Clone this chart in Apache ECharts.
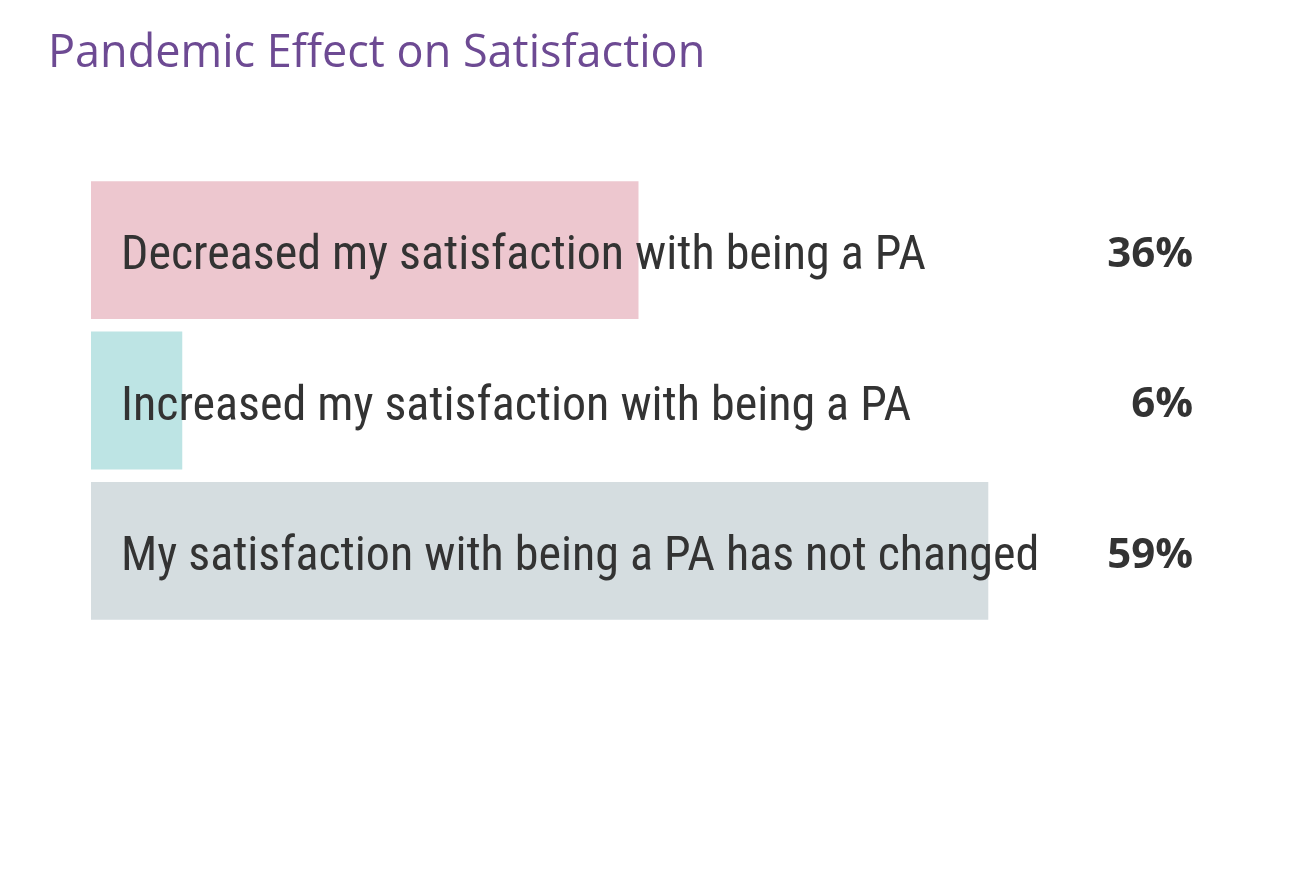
<!DOCTYPE html>
<html>
<head>
<meta charset="utf-8">
<script src="https://cdn.jsdelivr.net/npm/echarts@6/dist/echarts.min.js"></script>
<style>
html,body{margin:0;padding:0;background:#fff;}
#chart{width:1290px;height:878px;}
</style>
</head>
<body>
<div id="chart"></div>
<script>
var titleText = 'Pandemic Effect on Satisfaction';
var categories = [
  'Decreased my satisfaction with being a PA',
  'Increased my satisfaction with being a PA',
  'My satisfaction with being a PA has not changed'
];
var values = [36, 6, 59];
var valueLabels = ['36%', '6%', '59%'];
var barColors = ['#EDC7CF', '#BDE4E4', '#D5DDE0'];

var chart = echarts.init(document.getElementById('chart'));
var catFont = "'Roboto Condensed', 'Liberation Sans Narrow', 'DejaVu Sans Condensed', Roboto, sans-serif";
chart.setOption({
  backgroundColor: '#ffffff',
  animation: false,
  title: {
    text: titleText,
    left: 43,
    top: 27,
    textStyle: { color: '#6D4A93', fontFamily: "'Open Sans', sans-serif", fontWeight: 'normal', fontSize: 45 }
  },
  grid: { left: 91, right: 104, top: 175, bottom: 252, containLabel: false },
  xAxis: {
    type: 'value', min: 0, max: 72, show: false
  },
  yAxis: [
    {
      type: 'category', inverse: true, data: categories, show: false
    },
    {
      type: 'category', inverse: true, data: valueLabels, position: 'right',
      axisLine: { show: false }, axisTick: { show: false },
      axisLabel: {
        align: 'right', margin: 7,
        formatter: function (v) { return '{v|' + v + '}'; },
        rich: {
          v: {
            color: '#333333',
            fontFamily: "'Open Sans', sans-serif", fontWeight: 'bold', fontSize: 42,
            padding: [10, 0, 0, 0]
          }
        }
      }
    }
  ],
  series: [{
    type: 'bar',
    yAxisIndex: 0,
    barCategoryGap: '8.3%',
    data: values.map(function (v, i) {
      return { value: v, itemStyle: { color: barColors[i] } };
    }),
    label: {
      show: true,
      position: 'insideLeft',
      distance: 30,
      offset: [0, 7],
      formatter: function (p) { return categories[p.dataIndex]; },
      color: '#333333',
      fontFamily: catFont,
      fontSize: 48
    }
  }]
});
</script>
</body>
</html>
